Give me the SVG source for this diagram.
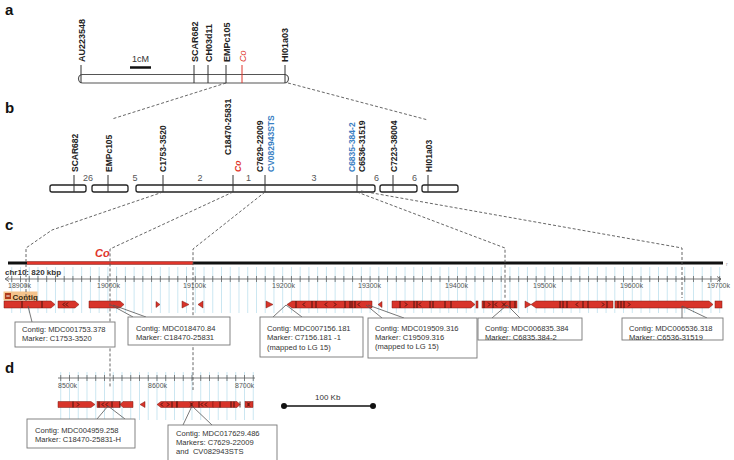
<svg xmlns="http://www.w3.org/2000/svg" width="734" height="460" viewBox="0 0 734 460">
<style>
text{font-family:"Liberation Sans",Arial,sans-serif}
.pl{font-size:15px;font-weight:bold;fill:#111}
.ma{font-size:9px;font-weight:bold;fill:#222}
.mb{font-size:8.5px;font-weight:bold;fill:#222}
.red{fill:#e0352b}
.blue{fill:#3a80c3}
.num{font-size:9px;fill:#555}
.mline{stroke:#333;stroke-width:1}
.bar{fill:#fff;stroke:#222;stroke-width:1.3}
.dash{fill:none;stroke:#555;stroke-width:0.9;stroke-dasharray:3 2}
.call{fill:none;stroke:#555;stroke-width:0.8}
.box{fill:#fff;stroke:#777;stroke-width:0.9}
.bt{font-size:7.6px;fill:#333}
.ct{fill:#d8342a;stroke:#7a1a12;stroke-width:0.5}
.dk{fill:none;stroke:#2a0a06;stroke-width:0.8}
.rl{font-size:7px;fill:#555}
</style>
<defs>
<pattern id="gridc" x="20" y="0" width="8.74" height="10" patternUnits="userSpaceOnUse"><rect x="0" y="0" width="0.8" height="10" fill="#bfe1ee"/></pattern>
<pattern id="tickc" x="20" y="276" width="8.74" height="6" patternUnits="userSpaceOnUse"><rect x="0" y="0" width="0.8" height="6" fill="#666"/></pattern>
<pattern id="gridd" x="69" y="0" width="8.75" height="10" patternUnits="userSpaceOnUse"><rect x="0" y="0" width="0.8" height="10" fill="#bfe1ee"/></pattern>
<pattern id="tickd" x="69" y="375" width="8.75" height="6" patternUnits="userSpaceOnUse"><rect x="0" y="0" width="0.8" height="6" fill="#666"/></pattern>
</defs>

<g id="panel-labels">
<text class="pl" x="5" y="15">a</text>
<text class="pl" x="5" y="113">b</text>
<text class="pl" x="5" y="230">c</text>
<text class="pl" x="5" y="373">d</text>
</g>

<!-- Panel a -->
<g id="map-a">
<rect x="78.5" y="74.5" width="210" height="8.5" rx="4.2" fill="#fff" stroke="#555" stroke-width="1.2"/>
<line class="mline" x1="81" y1="65" x2="81" y2="83"/>
<line class="mline" x1="194" y1="65" x2="194" y2="83"/>
<line class="mline" x1="208" y1="65" x2="208" y2="83"/>
<line class="mline" x1="226" y1="65" x2="226" y2="83"/>
<line x1="242" y1="65" x2="242" y2="83" stroke="#e0352b" stroke-width="1"/>
<line class="mline" x1="285" y1="65" x2="285" y2="83"/>
<text class="ma" transform="translate(84.5,62) rotate(-90)">AU223548</text>
<text class="ma" transform="translate(197.5,62) rotate(-90)">SCAR682</text>
<text class="ma" transform="translate(211.5,62) rotate(-90)">CH03d11</text>
<text class="ma" transform="translate(229.5,62) rotate(-90)">EMPc105</text>
<text class="ma red" font-style="italic" transform="translate(245.5,62) rotate(-90)" style="font-weight:normal">Co</text>
<text class="ma" transform="translate(288,62) rotate(-90)">HI01a03</text>
<text x="132" y="62" font-size="9" fill="#333">1cM</text>
<line x1="130" y1="67.5" x2="151" y2="67.5" stroke="#111" stroke-width="2.5"/>
</g>

<!-- Panel b -->
<g id="map-b">
<rect class="bar" x="50" y="185" width="36" height="7" rx="2"/>
<rect class="bar" x="92" y="185" width="36" height="7" rx="2"/>
<rect class="bar" x="136" y="185" width="239" height="7" rx="2"/>
<rect class="bar" x="380" y="185" width="37" height="7" rx="2"/>
<rect class="bar" x="422" y="185" width="36" height="7" rx="2"/>
<line class="mline" x1="74" y1="175" x2="74" y2="192"/>
<line class="mline" x1="108" y1="175" x2="108" y2="192"/>
<line class="mline" x1="163" y1="175" x2="163" y2="192"/>
<line class="mline" x1="233" y1="175" x2="233" y2="192"/>
<line class="mline" x1="265" y1="175" x2="265" y2="192"/>
<line class="mline" x1="357" y1="175" x2="357" y2="192"/>
<line class="mline" x1="393" y1="175" x2="393" y2="192"/>
<line class="mline" x1="428" y1="175" x2="428" y2="192"/>
<text class="mb" transform="translate(77.5,172) rotate(-90)">SCAR682</text>
<text class="mb" transform="translate(111.5,172) rotate(-90)">EMPc105</text>
<text class="mb" transform="translate(166,172) rotate(-90)">C1753-3520</text>
<text class="mb" transform="translate(231,155) rotate(-90)">C18470-25831</text>
<text class="mb red" font-style="italic" transform="translate(241,172) rotate(-90)">Co</text>
<text class="mb" transform="translate(263,172) rotate(-90)">C7629-22009</text>
<text class="mb blue" transform="translate(274,172) rotate(-90)">CV082943STS</text>
<text class="mb blue" transform="translate(355,172) rotate(-90)">C6835-384-2</text>
<text class="mb" transform="translate(365,172) rotate(-90)">C6536-31519</text>
<text class="mb" transform="translate(397,172) rotate(-90)">C7223-38004</text>
<text class="mb" transform="translate(432,172) rotate(-90)">HI01a03</text>
<text class="num" x="83" y="181">26</text>
<text class="num" x="132.5" y="181">5</text>
<text class="num" x="197.5" y="181">2</text>
<text class="num" x="246" y="181">1</text>
<text class="num" x="311.5" y="181">3</text>
<text class="num" x="374" y="181">6</text>
<text class="num" x="412" y="181">6</text>
</g>

<!-- Panel c -->
<g id="track-c">
<rect x="10" y="267" width="712" height="46" fill="url(#gridc)"/>
<line x1="8" y1="263" x2="723" y2="263" stroke="#111" stroke-width="3"/>
<line x1="27" y1="263" x2="193" y2="263" stroke="#e0352b" stroke-width="3"/>
<text x="95" y="257" font-size="11" font-weight="bold" font-style="italic" fill="#e0352b">Co</text>
<text x="726" y="266" font-size="5" fill="#999">r</text>
<text x="5" y="275" font-family="'Liberation Mono',monospace" font-size="8" font-weight="bold" fill="#333">chr10: 820 kbp</text>
<line x1="6" y1="279" x2="721" y2="279" stroke="#555" stroke-width="0.8"/>
<rect x="8" y="276" width="714" height="6" fill="url(#tickc)"/>
<path d="M9,276.5 L5,279 L9,281.5 M717,276.5 L721,279 L717,281.5" fill="none" stroke="#555" stroke-width="0.8"/>
<text class="rl" x="8" y="288">18900k</text>
<text class="rl" x="97" y="288">19000k</text>
<text class="rl" x="183" y="288">19100k</text>
<text class="rl" x="272" y="288">19200k</text>
<text class="rl" x="358" y="288">19300k</text>
<text class="rl" x="445" y="288">19400k</text>
<text class="rl" x="533" y="288">19500k</text>
<text class="rl" x="620" y="288">19600k</text>
<text class="rl" x="707" y="288">19700k</text>
<rect x="3.5" y="291.5" width="34" height="9" fill="#f4c38c"/>
<rect x="5" y="293" width="6" height="6" fill="#b03a1a"/>
<line x1="6.3" y1="296" x2="9.7" y2="296" stroke="#fff" stroke-width="1"/>
<text x="12.5" y="299.5" font-size="8" font-weight="bold" fill="#3a2a10">Contig</text>
<polygon class="ct" points="4,301 51,301 55,304.5 51,308 4,308"/>
<polygon class="ct" points="58,301 75,301 79,304.5 75,308 58,308"/>
<polygon class="ct" points="89,301 120,301 124,304.5 120,308 89,308"/>
<polygon class="ct" points="156,301.5 160,304.5 156,307.5"/>
<polygon class="ct" points="182,301 189,304.5 182,308"/>
<polygon class="ct" points="203,301 198,304.5 203,308"/>
<polygon class="ct" points="266,301 273,304.5 266,308"/>
<polygon class="ct" points="287,304.5 292,301 372,301 372,308 292,308"/>
<polygon class="ct" points="382,301.5 378,304.5 382,307.5"/>
<polygon class="ct" points="392,301 471,301 475,304.5 471,308 392,308"/>
<rect class="ct" x="476" y="301" width="2" height="7"/>
<rect class="ct" x="482" y="301" width="35" height="7"/>
<polygon class="ct" points="525,301 531,304.5 525,308"/>
<polygon class="ct" points="531,304.5 536,301 613,301 613,308 536,308"/>
<polygon class="ct" points="615,301 709,301 713,304.5 709,308 615,308"/>
<rect class="ct" x="715" y="301" width="7" height="7"/>
<path class="dk" d="M22,301v7 M42,301v7 M65,302.5l-2,2l2,2 M68,302.5l-2,2l2,2 M296,301v7 M305,302.5l-2,2l2,2 M312,301v7 M316,301v7 M327,302.5l-2,2l2,2 M334,302.5l2,2l-2,2 M345,301v7 M350,301v7 M352,301v7 M355,301v7 M360,302.5l-2,2l2,2 M400,301v7 M405,302.5l2,2l-2,2 M414,301v7 M417,301v7 M421,302.5l-2,2l2,2 M430,301v7 M433,301v7 M445,301v7 M451,301v7 M484,301v7 M488,302.5l2,2l-2,2 M493,301v7 M497,302.5l-2,2l2,2 M502,302.5l2,2l-2,2 M506,302.5l-2,2l2,2 M510,301v7 M515,301v7 M560,301v7 M563,301v7 M567,301v7 M578,302.5l-2,2l2,2 M583,301v7 M588,301v7 M602,302.5l2,2l-2,2 M607,301v7 M618,301v7 M621,301v7 M624,301v7 M628,302.5l2,2l-2,2"/>
</g>

<!-- Panel d -->
<g id="track-d">
<rect x="58" y="372" width="197" height="48" fill="url(#gridd)"/>
<line x1="58" y1="378" x2="255" y2="378" stroke="#555" stroke-width="0.8"/>
<rect x="58" y="375" width="197" height="6" fill="url(#tickd)"/>
<text class="rl" x="58" y="388">8500k</text>
<text class="rl" x="148" y="388">8600k</text>
<text class="rl" x="235" y="388">8700k</text>
<polygon class="ct" points="58,401.5 91,401.5 95,404.5 91,407.5 58,407.5"/>
<rect class="ct" x="97" y="401.5" width="23" height="6"/>
<polygon class="ct" points="120,404.5 123,401.5 133,401.5 133,407.5 123,407.5"/>
<polygon class="ct" points="145,401.5 140,404.5 145,407.5"/>
<polygon class="ct" points="157,404.5 161,401.5 177,401.5 177,407.5 161,407.5"/>
<rect class="ct" x="177" y="401.5" width="36" height="6"/>
<polygon class="ct" points="213,401.5 237,401.5 240,404.5 237,407.5 213,407.5"/>
<rect class="ct" x="245" y="401.5" width="8" height="6"/>
<path class="dk" d="M73,401.5v6 M77,402.5l2,2l-2,2 M99,401.5v6 M104,402.5l-2,2l2,2 M108,402.5l-2,2l2,2 M112,401.5v6 M120,401.5v6 M163,402.5l-2,2l2,2 M167,402.5l2,2l-2,2 M172,401.5v6 M177,401.5v6 M190,402.5l2,2l-2,2 M193,402.5l-2,2l2,2 M199,401.5v6 M203,402.5l-2,2l2,2 M207,402.5l-2,2l2,2 M220,401.5v6 M231,401.5v6 M234,401.5v6 M240,401.5v6 M247,402.5l2,2l-2,2 M250,402.5l-2,2l2,2"/>
<line x1="284" y1="406" x2="373" y2="406" stroke="#111" stroke-width="1.5"/>
<circle cx="284" cy="406" r="3" fill="#111"/>
<circle cx="373" cy="406" r="3" fill="#111"/>
<text x="315" y="400" font-size="8" fill="#333">100 Kb</text>
</g>

<g id="connectors">
<line class="dash" x1="226" y1="83" x2="112" y2="119"/>
<line class="dash" x1="288" y1="83" x2="428" y2="120"/>
<polyline class="dash" points="163,192 116,208 52,230 26,248 26,301"/>
<polyline class="dash" points="233,192 110,249 110,388"/>
<polyline class="dash" points="265,192 193,249 193,390"/>
<polyline class="dash" points="357,192 505,248 505,298"/>
<polyline class="dash" points="361,191 682,248 682,298"/>
<path class="call" d="M28,306 L32,322 M111,305 L133,317 M113,305 L146,317 M286,305 L273,317 M286,305 L302,317 M366,305 L382,318 M368,305 L404,318 M507,305 L492,318 M507,305 L520,318 M682,306 L682,318 M682,306 L707,318 M108,406 L97,419 M108,406 L125,419 M192,406 L183,425 M192,406 L212,425"/>
</g>

<g id="box-c1"><rect class="box" x="15" y="322" width="100" height="25"/>
<text class="bt" x="22" y="331.5">Contig: MDC001753.378</text>
<text class="bt" x="22" y="341">Marker: C1753-3520</text></g>
<g id="box-c2"><rect class="box" x="128" y="317" width="102" height="28"/>
<text class="bt" x="136" y="330.5">Contig: MDC018470.84</text>
<text class="bt" x="136" y="340">Marker: C18470-25831</text></g>
<g id="box-c3"><rect class="box" x="260" y="317" width="103" height="40"/>
<text class="bt" x="267" y="331">Contig: MDC007156.181</text>
<text class="bt" x="267" y="340">Marker: C7156.181 -1</text>
<text class="bt" x="267" y="349.5">(mapped to LG 15)</text></g>
<g id="box-c4"><rect class="box" x="368" y="318" width="109" height="40"/>
<text class="bt" x="375" y="331">Contig: MDC019509.316</text>
<text class="bt" x="375" y="339.5">Marker: C19509.316</text>
<text class="bt" x="375" y="348.5">(mapped to LG 15)</text></g>
<g id="box-c5"><rect class="box" x="478" y="318" width="104" height="22"/>
<text class="bt" x="485" y="331">Contig: MDC006835.384</text>
<text class="bt" x="485" y="340">Marker: C6835.384-2</text></g>
<g id="box-c6"><rect class="box" x="622" y="318" width="101" height="22"/>
<text class="bt" x="629" y="331">Contig: MDC006536.318</text>
<text class="bt" x="629" y="340">Marker: C6536-31519</text></g>
<g id="box-d1"><rect class="box" x="27" y="419" width="108" height="29"/>
<text class="bt" x="35" y="432.5">Contig: MDC004959.258</text>
<text class="bt" x="35" y="441.5">Marker: C18470-25831-H</text></g>
<g id="box-d2"><rect class="box" x="168" y="425" width="109" height="40"/>
<text class="bt" x="176" y="435.5">Contig: MDC017629.486</text>
<text class="bt" x="176" y="444.5">Markers: C7629-22009</text>
<text class="bt" x="176" y="454" xml:space="preserve">and  CV082943STS</text></g>
</svg>
